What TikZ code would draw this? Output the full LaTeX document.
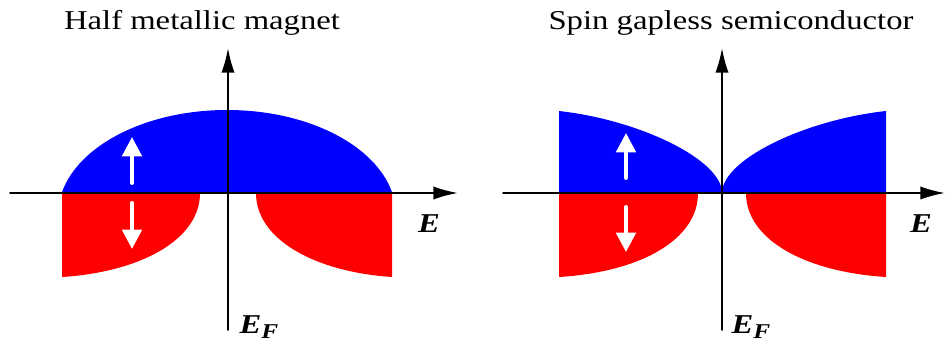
\documentclass[tikz,border=0pt]{standalone}
\usepackage{fontspec}
\setmainfont[FakeStretch=1.2]{Liberation Serif}
\usetikzlibrary{arrows.meta}

\begin{document}
\begin{tikzpicture}[
    x=0.02cm, y=-0.02cm,
    line cap=round,
    line join=round,
    axis/.style={line width=1.1pt, -{Latex[length=14pt,width=7.5pt]}},
    spin/.style={white, line width=2.3pt, -{Triangle[length=11pt,width=11pt]}},
    title/.style={font=\fontsize{15.5}{18}\selectfont, anchor=base},
    elab/.style={font=\fontsize{15.5}{18}\selectfont\bfseries\itshape}
]
\useasboundingbox (0,0) rectangle (946,350);

% Half metallic magnet
\node[title] (titleA) at (202,30) {Half metallic magnet};

% Bande: spin su
\begin{scope}
    \clip (62,193) rectangle (392,100);
    \fill[blue] (227,215) ellipse (169 and 105);
\end{scope}

% Bande: spin giu
\fill[red] (62,193) -- (200,193)
    .. controls (200,240) and (140,272) .. (62,277) -- cycle;
\fill[red] (392,193) -- (256,193)
    .. controls (256,240) and (316,272) .. (392,277) -- cycle;

% Assi
\draw[axis] (10,193) -- (458,193);
\draw[axis] (228,330) -- (228,48);
\node[elab] (eA) at (429,224) {E};
\node[elab] (efA) at (259,327) {E\raisebox{-0.4ex}{\fontsize{12}{12}\selectfont F}};

% Frecce di spin
\draw[spin] (132,183) -- (132,137);
\draw[spin] (132,203) -- (132,249);

% Spin gapless semiconductor
\node[title] (titleB) at (731,30) {Spin gapless semiconductor};

% Bande: spin su
\fill[blue] (559,193) -- (559,111)
    .. controls (640,120) and (722,160) .. (722,193) -- cycle;
\fill[blue] (886,193) -- (886,111)
    .. controls (804,120) and (722,160) .. (722,193) -- cycle;

% Bande: spin giu
\fill[red] (559,193) -- (698,193)
    .. controls (698,240) and (640,272) .. (559,277) -- cycle;
\fill[red] (886,193) -- (746,193)
    .. controls (746,240) and (806,272) .. (886,277) -- cycle;

% Assi
\draw[axis] (503,193) -- (945,193);
\draw[axis] (722,330) -- (722,48);
\node[elab] (eB) at (921,224) {E};
\node[elab] (efB) at (751,327) {E\raisebox{-0.4ex}{\fontsize{12}{12}\selectfont F}};

% Frecce di spin
\draw[spin] (626,178) -- (626,133);
\draw[spin] (626,207) -- (626,252);

\end{tikzpicture}
\end{document}
